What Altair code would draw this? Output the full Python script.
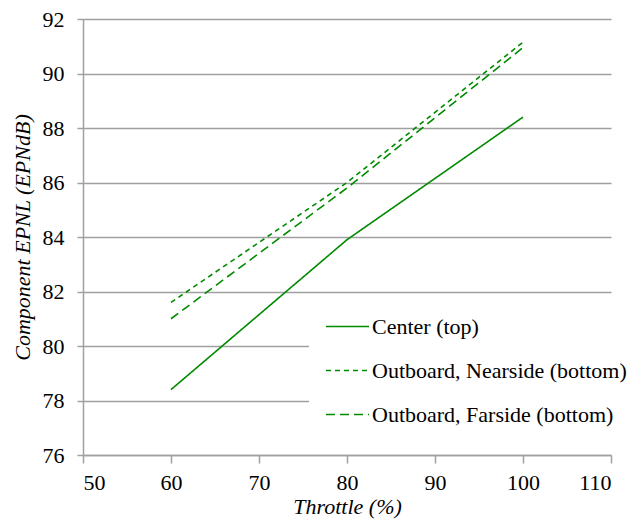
import altair as alt
import pandas as pd

throttle = [60, 80, 100]
series_names = ["Center (top)", "Outboard, Nearside (bottom)", "Outboard, Farside (bottom)"]
center = [78.4, 83.9, 88.4]
nearside = [81.6, 86.0, 91.15]
farside = [81.0, 85.8, 90.95]

rows = []
for name, vals in zip(series_names, [center, nearside, farside]):
    for t, v in zip(throttle, vals):
        rows.append({"throttle": t, "epnl": v, "series": name})
df = pd.DataFrame(rows)

GREEN = "#008a00"
GRID = "#a0a0a0"
FONT = "'Liberation Serif', 'Times New Roman', Times, 'DejaVu Serif', serif"

chart = alt.Chart(df).mark_line(strokeWidth=1.6, color=GREEN).encode(
    x=alt.X("throttle:Q",
            scale=alt.Scale(domain=[50, 110], nice=False),
            axis=alt.Axis(values=list(range(50, 111, 10)), title="Throttle (%)",
                          grid=False, tickSize=8, labelPadding=9, titlePadding=3)),
    y=alt.Y("epnl:Q",
            scale=alt.Scale(domain=[76, 92], nice=False, zero=False),
            axis=alt.Axis(values=list(range(76, 93, 2)), title="Component EPNL (EPNdB)",
                          grid=True, tickSize=6, labelPadding=13, titlePadding=8)),
    strokeDash=alt.StrokeDash("series:N",
                              scale=alt.Scale(domain=series_names, range=[[1, 0], [5, 4], [9, 5]]),
                              legend=alt.Legend(title=None, orient="none", legendX=226, legendY=280,
                                                fillColor="white", padding=5, symbolOffset=11,
                                                symbolType="stroke", symbolSize=1849,
                                                symbolStrokeColor=GREEN, symbolStrokeWidth=1.6,
                                                labelFont=FONT, labelFontSize=22, labelColor="black",
                                                labelOffset=2, rowPadding=10, labelLimit=400)),
    order="throttle:Q",
).properties(
    width=528, height=436,
    autosize=alt.AutoSizeParams(type="none"),
    padding={"left": 75, "top": 11, "right": 17, "bottom": 64},
).configure_view(stroke=None).configure_axis(
    domainColor=GRID, domainWidth=1.5, gridColor=GRID, gridWidth=1.5,
    tickColor=GRID, tickWidth=1.5,
    labelFont=FONT, labelFontSize=22, labelColor="black",
    titleFont=FONT, titleFontSize=22, titleFontStyle="italic", titleFontWeight="normal",
    titleColor="black",
)

chart.save("out.html", embed_options={"renderer": "svg", "actions": False})
